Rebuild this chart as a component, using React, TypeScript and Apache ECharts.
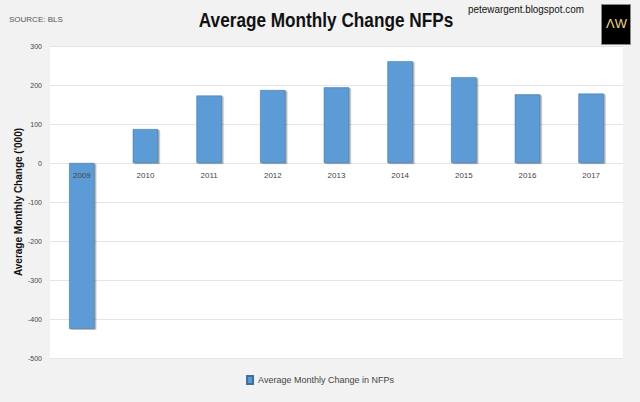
import { useEffect, useRef } from 'react';
import * as echarts from 'echarts';

const years = ['2009', '2010', '2011', '2012', '2013', '2014', '2015', '2016', '2017'];
const changes = [-425, 87, 173, 187, 194, 261, 220, 176, 178];

export default function App() {
  const chartRef = useRef<HTMLDivElement>(null);

  useEffect(() => {
    if (!chartRef.current) return;
    const chart = echarts.init(chartRef.current, null, { renderer: 'svg' });

    const option: any = {
      animation: false,
      backgroundColor: '#f2f2f2',
      textStyle: { fontFamily: 'Liberation Sans, Arial, sans-serif' },
      graphic: [
        {
          type: 'text', x: 326, y: 10, scaleX: 0.86,
          style: { text: 'Average Monthly Change NFPs', fontSize: 20, fontWeight: 'bold', fill: '#111', align: 'center' },
        },
        {
          type: 'text', x: 13, y: 202, rotation: Math.PI / 2,
          style: { text: "Average Monthly Change ('000)", fontSize: 10, fontWeight: 'bold', fill: '#111', align: 'center' },
        },
        { type: 'text', left: 9, top: 15, style: { text: 'SOURCE: BLS', fontSize: 8, fill: '#555' } },
        { type: 'text', x: 468, y: 4, scaleX: 0.9, style: { text: 'petewargent.blogspot.com', fontSize: 11, fill: '#111' } },
        { type: 'rect', left: 601, top: 4, shape: { width: 29, height: 40 }, style: { fill: '#000', stroke: '#888' } },
        { type: 'text', left: 606, top: 17, style: { text: 'ΛW', fontSize: 13, fill: '#e8d98a' } },
      ],
      grid: {
        left: 50, right: 17, top: 46, bottom: 44,
        containLabel: false,
        outerBoundsMode: 'none',
        show: true, backgroundColor: '#fff', borderWidth: 0,
      },
      legend: {
        bottom: 12,
        icon: 'rect',
        itemWidth: 6,
        itemHeight: 8,
        textStyle: { fontSize: 9, color: '#444' },
        data: ['Average Monthly Change in NFPs'],
      },
      xAxis: {
        type: 'category',
        data: years,
        z: 5,
        axisLine: { show: false },
        axisTick: { show: false },
        axisLabel: { fontSize: 8, color: '#444', margin: -187 },
      },
      yAxis: {
        type: 'value',
        min: -500,
        max: 300,
        interval: 100,
        axisLabel: { fontSize: 7, color: '#444' },
        splitLine: { lineStyle: { color: '#e4e4e4' } },
      },
      series: [
        {
          name: 'Average Monthly Change in NFPs',
          type: 'bar',
          data: changes,
          barWidth: '40%',
          z: 1,
          itemStyle: {
            color: '#5b9bd5',
            borderColor: '#3f6f9a',
            borderWidth: 0.5,
            shadowColor: 'rgba(0,0,0,0.35)',
            shadowOffsetX: 1.5,
            shadowOffsetY: 1,
            shadowBlur: 1,
          },
        },
      ],
    };
    chart.setOption(option);
    return () => chart.dispose();
  }, []);

  return <div ref={chartRef} style={{ position: 'fixed', left: 0, top: 0, width: 640, height: 402 }} />;
}
